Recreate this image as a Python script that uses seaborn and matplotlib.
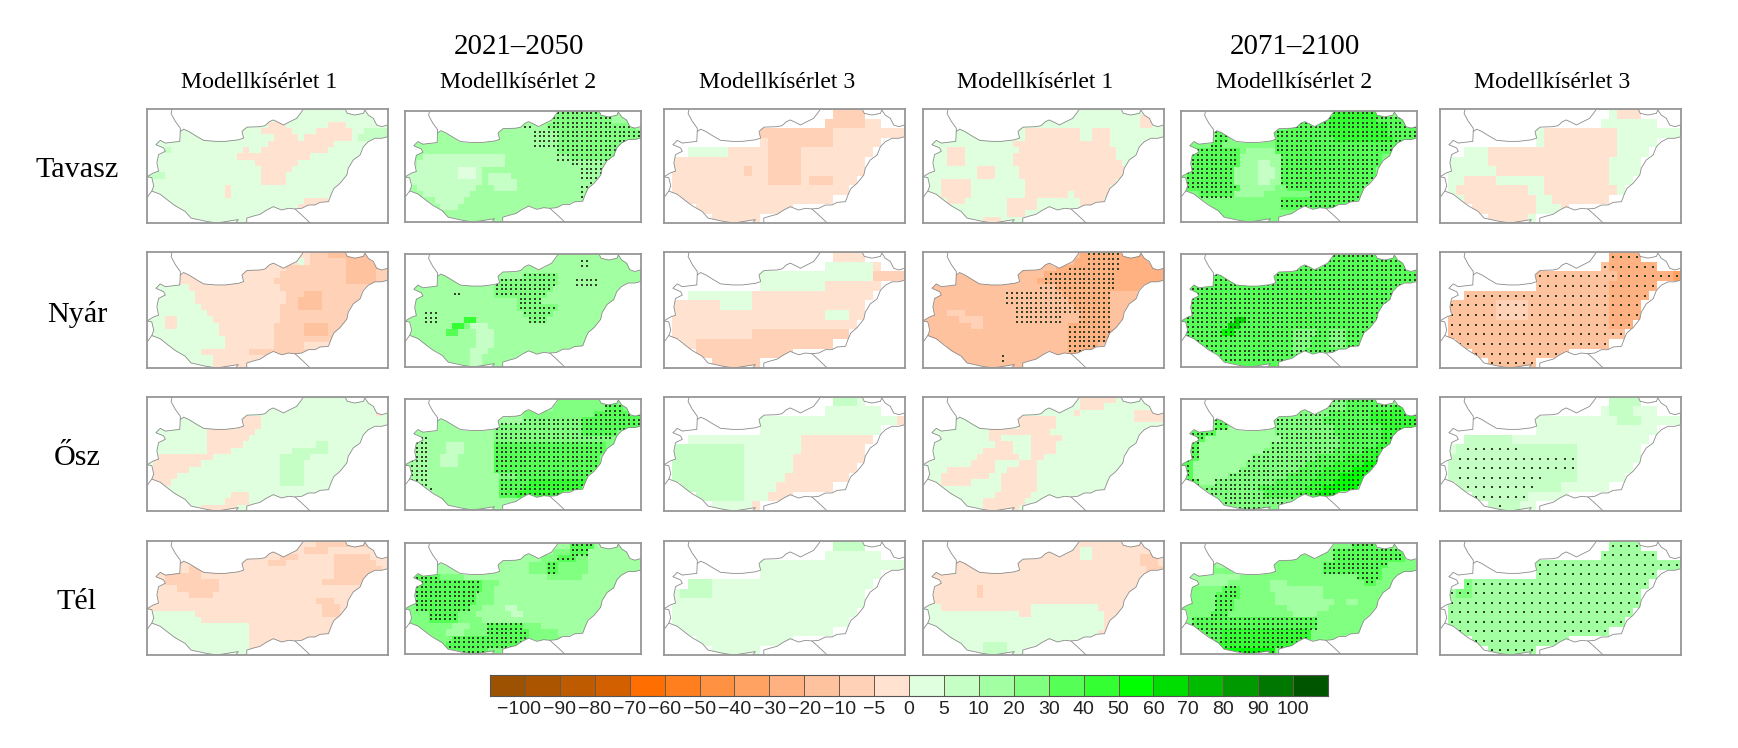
import re
import numpy as np
import pandas as pd
import matplotlib
matplotlib.use("Agg")
import matplotlib.pyplot as plt
from matplotlib.colors import ListedColormap
from matplotlib.patches import Polygon
import seaborn as sns

# ── Data ───────────────────────────────────────────────────────────────────────
periods = ["2021–2050", "2071–2100"]
experiments = ["Modellkísérlet 1", "Modellkísérlet 2", "Modellkísérlet 3"]
seasons = ["Tavasz", "Nyár", "Ősz", "Tél"]
bar_labels = ["−100", "−90", "−80", "−70", "−60", "−50", "−40", "−30", "−20", "−10", "−5", "0",
              "5", "10", "20", "30", "40", "50", "60", "70", "80", "90", "100"]
bin_colors = ["#9C5200", "#AB5500", "#BE5A00", "#D26000", "#FF6E00", "#FF7F1E", "#FF9142", "#FFA262",
              "#FFB182", "#FFC29E", "#FFD1B6", "#FFE2D0", "#DFFFDF", "#C6FFC6", "#A2FFA2", "#80FF80",
              "#55FF55", "#33FF33", "#00FF00", "#00DD00", "#00BB00", "#009900", "#007700", "#005500"]
# one letter per colorbar bin, upper case = stippled (significant) cell, '.' = no data
bin_codes = "lkjihgfedcbapqrstuvwxyzo"

border_x = [0, .028, .048, .041, .048, .076, .069, .037, .055, .076, .136, .138, .152, .173, .207, .235, .284,
            .325, .380, .401, .394, .415, .469, .49, .508, .524, .545, .566, .593, .621, .642, .649, .822, .831,
            .863, .898, .904, .918, .939, .953, .974, .999, .999, .974, .946, .918, .898, .884, .856, .835, .829,
            .801, .776, .766, .753, .718, .697, .67, .642, .614, .587, .559, .524, .497, .469, .44, .414, .414,
            .368, .379, .29, .245, .183, .158, .118, .09, .055, .02, .028, .02, 0]
border_y = [.594, .559, .545, .472, .40, .371, .342, .313, .275, .299, .284, .197, .177, .197, .241, .275, .284,
            .284, .27, .255, .197, .159, .155, .146, .111, .096, .117, .14, .111, .082, .023, 0, 0, .038,
            .053, .038, .009, .053, .082, .14, .155, .14, .243, .257, .257, .287, .331, .404, .447, .52, .579,
            .652, .696, .74, .813, .819, .842, .842, .871, .877, .871, .886, .857, .886, .924, .94, .957, 1,
            1, .97, 1, .985, .957, .898, .85, .806, .748, .72, .675, .603, .594]
austria_x = [.104, .10, .118, .138, .138]
austria_y = [0, .04, .11, .168, .197]
slovenia_x = [0, .02]
slovenia_y = [.777, .72]
serbia_x = [.614, .642, .677]
serbia_y = [.877, .93, 1]

# coarse experiment 3 grid: first and last+1 column with data in each row
coarse_start = [21, 20, 12, 12, 3, 1, 1, 1, 1, 2, 4, 6]
coarse_end = [25, 27, 30, 27, 26, 25, 25, 24, 23, 21, 16, 12]

tavasz_m1_2021 = ["p", "p", "p20 a3 p7 a3 p", "p19 a5 p4 a6 p2 q", "p21 a4 p1 a8 p1 q", "p20 a11 p", "p3 q1 p12 a1 p2 a11 p",
                  "p15 a12 p", "p18 a7 p", "p19 a5 p", "q3 p16 a4 p", "p19 a4 p", "p13 a1 p", "p13 a1 p", "p26 a4 p",
                  "p25 a4 p", "p", "p"]
tavasz_m2_2021 = ["r25 S9 r", "r25 S10 r", "r20 R2 r2 S15 r", "r22 R4 S14", "r22 R4 S14", "r22 R4 S12 r", "r26 S11 r",
                  "r3 q14 r9 R2 S8 r", "r2 q15 r11 R7 r", "q9 p3 q1 r17 R4 r", "q9 p3 q1 r1 q4 r12 R4 r",
                  "q13 r1 q5 r12 R3 r", "r2 q10 r3 q4 r11 R3 r", "r3 q8 r19 R3 r", "r5 q5 r", "r6 q3 r", "r", "r"]
tavasz_m3_2021 = ["a21 b", "a20 b5 a", "a12 b9 a", "a13 b8 a", "p8 a5 b4 a", "a13 b4 a", "a10 b1 a2 b4 a",
                  "a13 b4 a1 b3 a", "a", "a", "a", "a"]
tavasz_m1_2071 = ["p", "p36 a2 p", "p36 a2 p", "p17 a9 p2 a3 p", "p17 a9 p2 a3 p", "p15 a16 p", "p4 a3 p9 a16 p",
                  "p4 a3 p8 a17 p", "p4 a3 p8 a18 p", "p9 a3 p4 a18 p", "p9 a3 p4 a18 p", "p3 a5 p9 a15 p",
                  "p3 a5 p9 a14 p", "p3 a5 p9 a7 p1 a6 p", "p4 a3 p7 a5 p7 a4 p", "p14 a5 p7 a3 p", "p14 a3 p", "p10 a3 p"]
tavasz_m2_2071 = ["s25 U9 s", "s20 T5 U8 T", "s18 T7 U10 T", "s6 T2 s8 T9 U10 T", "s6 T2 s8 T10 U10 T", "s5 T2 s9 T21 s",
                  "s2 T8 s1 r5 T20 s", "s2 T8 r7 T17 s", "s2 T8 r3 q2 r2 T17 s", "s1 T8 r4 q3 r1 T16 s",
                  "s1 T8 r4 q3 r1 T16 s", "s1 T8 r4 q2 r2 T15 s", "s1 T9 r6 s2 T13 s", "s3 T6 r5 s8 T9 s", "s17 T13 s",
                  "s17 T10 s", "s", "s"]
tavasz_m3_2071 = ["p22 a3 p", "p", "p13 a9 p", "p13 a9 p", "p6 a16 p", "p6 a15 p", "p7 a14 p", "p3 a4 p6 a8 p",
                  "p2 a9 p2 a9 p", "p3 a9 p2 a8 p", "p3 a9 p3 a6 p", "p6 a5 p"]

nyar_m1_2021 = ["a27 b3 c", "a25 p1 a1 b6 c", "a23 b10 c5 b", "a22 b11 c5 b", "a21 b12 c5 b", "p7 a15 b", "p8 a15 b3 c3 b",
                "p8 a15 b2 c4 b", "p9 a13 b3 c4 b", "p10 a12 b", "p3 a2 p6 a11 b", "p3 a2 p7 a9 b5 c4 b",
                "p12 a9 b5 c4 b", "p13 a8 b", "p13 a8 b5 a", "p9 a8 b", "p11 a", "p11 a"]
nyar_m2_2021 = ["r", "r30 R1 r", "r", "r20 S6 r", "r15 S11 r3 R4 r", "r15 S10 r", "r8 R2 r5 S9 r", "r19 S4 r", "r19 S7 r",
                "r3 R3 r14 S5 r", "r3 R3 r4 u2 r9 S3 r", "r8 u2 s1 q3 r", "r7 t2 r3 q3 r", "r12 q3 r", "r12 q3 r",
                "r11 q3 r", "r11 q2 r", "r11 q2 r"]
nyar_m3_2021 = ["a", "a19 p7 a", "a12 p14 b", "a4 p16 a", "a3 p8 a", "a7 p4 a", "a20 p3 a", "a", "a11 b", "a4 b", "b", "b"]
nyar_m1_2071 = ["c26 d1 D6 d", "c25 d2 D6 d", "c22 d2 D9 d", "c20 d1 D11 d", "c19 d1 D12 d", "c19 C3 D10 d", "c14 C9 D8 c",
                "c14 C10 D7 c", "c15 C10 D6 c", "c4 b3 c8 C11 D5 c", "c6 b4 c5 C8 c3 D5 c", "c8 b2 c14 D7 c", "c24 D8 c",
                "c24 D7 c", "c24 D5 c", "c24 D4 c", "c13 C1 c", "c"]
nyar_m2_2071 = ["T", "T", "T", "T", "T", "T", "T", "T", "T", "T", "T9 W2 T", "T8 W2 T", "T7 V2 T10 S4 T2 S3 T",
                "T19 S3 T3 S3 T", "T19 S3 T3 S3 T", "T19 S2 T", "T", "t"]
nyar_m3_2071 = ["C21 D", "C21 D", "C22 D7 E", "C21 D", "C21 D", "C7 B4 C10 D", "C7 B4 C10 D", "C21 D3 C", "C", "C", "C", "C"]

osz_m1_2021 = ["p", "p", "p38 a1 p", "p16 a3 p", "p15 a4 p", "p10 a8 p", "p10 a7 p", "p10 a6 p12 q2 p", "p10 a4 p10 q6 p",
               "p2 a9 p11 q5 p", "p1 a8 p13 q4 p", "p1 a6 p15 q4 p", "p1 a4 p17 q4 p", "p1 a3 p18 q4 p", "p",
               "p14 a3 p", "p13 a4 p", "p9 a6 p"]
osz_m2_2021 = ["r25 s9 T2 s", "r25 s9 T3 s", "r20 s12 T7", "r20 S10 T10", "r15 S15 T10", "r15 S15 T6 s", "r2 R2 r11 S20 s",
               "r1 R3 r3 q3 r5 T19 s", "r1 R3 r3 q3 r5 T19 s", "r1 R3 r2 q3 r6 T18 s", "R4 r2 q3 r6 T18 s", "R4 r11 T18 s",
               "r1 R3 r12 S3 T15 s", "r1 R3 r12 T5 U10 s", "r3 R2 r11 T4 U10 s", "r4 R1 r11 T3 U8 s", "r", "r"]
osz_m3_2021 = ["p21 q3 p", "p", "p29 a", "p", "p17 a", "p1 q9 p7 a", "p1 q9 p6 a", "p1 q9 p6 a", "p1 q9 p5 a", "p2 q8 p4 a",
               "p4 q6 p3 a", "p11 a2 p"]
osz_m1_2071 = ["p26 a6 p", "p26 a4 p", "p25 a1 p9 a4", "p16 a6 p13 a4", "p16 a6 p", "p11 a10 p", "p11 a2 p5 a5 p",
               "p12 a3 p3 a4 p", "p10 a5 p3 a4 p", "p9 a7 p2 a2 p", "p8 a4 p4 a3 p", "p4 a8 p2 a5 p", "p3 a8 p2 a6 p",
               "p3 a5 p5 a6 p", "p13 a6 p", "p12 a6 p", "p10 a7 p", "p10 a6 p"]
osz_m2_2071 = ["s25 S3 T6 s", "s25 S3 T8 U2 s", "s20 S5 T7 U8", "s6 T2 s8 S8 T8 U8", "s6 T2 r8 S10 T8 U6", "T6 r10 S10 T8 U4 s",
               "T4 r13 S10 T7 U4 s", "T3 r12 S12 T6 U3 V1 s", "T3 r11 S12 T5 U4 V2 s", "T3 r9 S11 T5 U5 V3 s",
               "T2 r9 S10 T5 U5 V4 s", "T2 r8 S10 T4 U5 V5 s", "T2 r6 S10 T5 U4 V5 s", "T3 r3 S10 T6 U4 V5 s",
               "s4 S9 T8 U3 V6 s", "s5 S9 T6 U3 V4 s", "s7 S12 s", "s8 S7 s"]
osz_m3_2071 = ["p21 q4 p", "p21 q3 p", "p22 q3 p", "p", "p2 q7 p", "p2 q1 Q7 q7 p", "p1 q1 Q15 p", "p1 q1 Q15 p",
               "p1 q1 Q11 q4 p", "p2 q1 Q9 q3 p", "p3 q1 Q7 p", "p5 q2 Q1 q2 p"]

tel_m1_2021 = ["a28 b", "a26 b4 a", "a22 b3 a6 b6 a", "a20 b3 a8 b7 a", "a7 b2 a22 b8 a", "a3 b6 a22 b8", "a3 b9 a17 b7 a",
               "a5 b7 a", "a7 b4 a", "a28 b3 a", "a29 b3 a", "p8 a21 b3 a", "p9 a", "p17 a", "p17 a", "p17 a", "p17 a", "p17 a"]
tel_m2_2021 = ["r28 T4 r", "r25 s3 T3 r", "r23 s3 T3 s2 r", "r21 s3 T2 s5 r", "r21 s3 T2 s5 r", "s1 T5 s4 r14 s6 r",
               "s2 T11 s3 r", "s2 T11 s2 r", "s2 T10 s3 r", "s2 T10 s3 r", "s2 T9 s2 r4 q2 r", "s4 T5 s3 r6 q2 r",
               "s4 T5 s4 r", "s8 r3 s3 T6 s3 r", "s7 r3 s4 T7 s5 r", "s8 T13 s7 r", "s7 T19 s2 r", "s7 T7 s"]
tel_m3_2021 = ["p21 q4 p", "p", "p", "p", "p2 q4 p", "p2 q4 p", "p", "p", "p", "p", "p", "p"]
tel_m1_2071 = ["a", "a26 p2 a", "a26 p2 a8 b3 a", "a36 b3 a", "a37 b", "a", "a", "a9 b1 a", "a9 b1 a", "a", "p3 a15 p11 a",
               "p16 a2 p12 a", "p30 a", "p30 a", "p29 a", "p29 a", "p10 q4 p", "p10 q4 p"]
tel_m2_2071 = ["s29 T4 s", "s26 T12 s", "s26 T12 s", "s6 r3 s15 T11 s", "s24 T10 s", "r10 s20 T4 s", "r8 s7 r3 s13 T2 s",
               "s7 T3 s5 r9 s", "s6 T4 s6 r8 s", "s6 T3 s7 r10 s2 r2 s", "s6 T3 s9 r7 s", "s5 T3 s11 r4 s", "s2 T21 s",
               "s2 T21 s", "s3 T4 U15 s", "s4 T3 U15 s", "s6 U14 s", "s7 V9 s"]
tel_m3_2071 = ["R", "R", "R", "R", "R2 S2 R", "R2 S2 R", "R", "R", "R", "R", "R", "R"]

panel_rows = [
    [tavasz_m1_2021, tavasz_m2_2021, tavasz_m3_2021, tavasz_m1_2071, tavasz_m2_2071, tavasz_m3_2071],
    [nyar_m1_2021, nyar_m2_2021, nyar_m3_2021, nyar_m1_2071, nyar_m2_2071, nyar_m3_2071],
    [osz_m1_2021, osz_m2_2021, osz_m3_2021, osz_m1_2071, osz_m2_2071, osz_m3_2071],
    [tel_m1_2021, tel_m2_2021, tel_m3_2021, tel_m1_2071, tel_m2_2071, tel_m3_2071],
]

# ── Style ──────────────────────────────────────────────────────────────────────
W, H = 1738, 748
sns.set_theme(style="white")
plt.rcParams["font.family"] = ["Liberation Serif", "DejaVu Serif"]
CMAP = ListedColormap(bin_colors)
SERIF = "Liberation Serif"
FRAME = "#969696"
BORDER = "#8a8a8a"
COL_LEFT = [147, 405, 664, 923, 1181, 1440]
COL_WIDTH = [241, 236, 241, 241, 236, 241]
ROW_TOP = [109, 252, 397, 541]
ROW_BOTTOM = [223, 368, 511, 655]
DOT_GRID = {40: (50, 24), 30: (30, 12)}


def decode_panel(rows, n_cols):
    grid = []
    for r, row in enumerate(rows):
        cells = ""
        for code, count in re.findall(r"([A-Za-z.])(\d*)", row):
            cells += code * (int(count) if count else n_cols - len(cells))
        cells = cells[:n_cols].ljust(n_cols, cells[-1])
        if n_cols == 30:
            cells = "".join(c if coarse_start[r] <= i < coarse_end[r] else "." for i, c in enumerate(cells))
        grid.append(cells)
    return grid


def draw_panel(ax, rows, n_cols):
    grid = decode_panel(rows, n_cols)
    n_rows = len(grid)
    values = np.array([[bin_codes.index(c.lower()) if c != "." else np.nan for c in row] for row in grid])
    sns.heatmap(pd.DataFrame(values), ax=ax, cmap=CMAP, vmin=0, vmax=24, cbar=False, mask=np.isnan(values),
                xticklabels=False, yticklabels=False)
    outline = np.column_stack([np.array(border_x) * n_cols, np.array(border_y) * n_rows])
    clip = Polygon(outline, closed=True, transform=ax.transData)
    ax.collections[0].set_clip_path(clip)

    # stippling on a regular lattice over the cells flagged upper case
    nx, ny = DOT_GRID[n_cols]
    dots = pd.DataFrame({"x": np.repeat((np.arange(nx) + .5) * n_cols / nx, ny),
                         "y": np.tile((np.arange(ny) + .5) * n_rows / ny, nx)})
    keep = [grid[int(y)][int(x)].isupper() for x, y in zip(dots["x"], dots["y"])]
    dots = dots[keep]
    if len(dots):
        n_before = len(ax.collections)
        sns.scatterplot(data=dots, x="x", y="y", ax=ax, s=0.6, marker="s", color="#33402a", linewidth=0, legend=False)
        ax.collections[n_before].set_clip_path(clip)

    ax.plot(outline[:, 0], outline[:, 1], color=BORDER, lw=0.6)
    for lx, ly in [(austria_x, austria_y), (slovenia_x, slovenia_y), (serbia_x, serbia_y)]:
        ax.plot(np.array(lx) * n_cols, np.array(ly) * n_rows, color=BORDER, lw=0.6)
    ax.set_xlim(0, n_cols)
    ax.set_ylim(n_rows, 0)
    ax.set_xlabel("")
    ax.set_ylabel("")
    ax.set_xticks([])
    ax.set_yticks([])
    for spine in ax.spines.values():
        spine.set_visible(True)
        spine.set_color(FRAME)
        spine.set_linewidth(1.3)


fig = plt.figure(figsize=(W / 100, H / 100), dpi=100)
fig.patch.set_facecolor("white")

for i, row in enumerate(panel_rows):
    for j, rows in enumerate(row):
        left, width = COL_LEFT[j], COL_WIDTH[j]
        top = ROW_TOP[i] + (2 if j in (1, 4) else 0)
        bottom = ROW_BOTTOM[i] - (1 if j in (1, 4) else 0)
        ax = fig.add_axes([left / W, 1 - bottom / H, width / W, (bottom - top) / H])
        draw_panel(ax, rows, 30 if j in (2, 5) else 40)

# ── Titles and row labels ──────────────────────────────────────────────────────
for period, x in zip(periods, [519, 1295]):
    fig.text(x / W, 1 - 47 / H, period, ha="center", va="center", fontsize=20.9, family=SERIF, color="black")
for j, x in enumerate([259, 518, 777, 1035, 1294, 1552]):
    fig.text(x / W, 1 - 83 / H, experiments[j % 3], ha="center", va="center", fontsize=17.1, family=SERIF, color="black")
for season, y in zip(seasons, [170, 314, 458, 602]):
    fig.text(77 / W, 1 - y / H, season, ha="center", va="center", fontsize=21.7, family=SERIF, color="black")

# ── Colorbar ───────────────────────────────────────────────────────────────────
cax = fig.add_axes([490 / W, 1 - 696 / H, 838 / W, 21 / H])
sns.heatmap(np.arange(24).reshape(1, -1), ax=cax, cmap=CMAP, vmin=0, vmax=24, cbar=False, linewidths=0.6,
            linecolor="#6b5a48", xticklabels=False, yticklabels=False)
cax.set_xticks([])
# labels sit on the bin edges, −100 is wider than a bin so it gets nudged clear of −90
for k, label in enumerate(bar_labels):
    cax.annotate(label, xy=(k + 1, 1), xycoords="data", xytext=(-6 if k == 0 else 0, -13), textcoords="offset pixels",
                 ha="center", va="center", fontsize=14, family="Liberation Sans", color="#222222", annotation_clip=False)
for spine in cax.spines.values():
    spine.set_visible(True)
    spine.set_color("#555555")
    spine.set_linewidth(0.8)

fig.savefig("out.png", dpi=100)
